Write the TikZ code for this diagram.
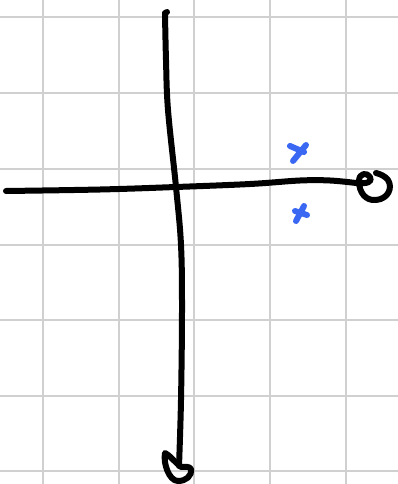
\documentclass[tikz,border=0pt]{standalone}
\definecolor{gridgray}{HTML}{D0D0D0}
\definecolor{markblue}{HTML}{3A68F2}

\begin{document}
\begin{tikzpicture}[x=1pt, y=-1pt, line cap=round, line join=round]
  \useasboundingbox[fill=white] (0,0) rectangle (398,484);

  % --- Grid ---
  \foreach \gx in {42.5, 118.5, 194, 270, 345.5}
    \draw[gridgray, line width=2] (\gx,0) -- (\gx,484);
  \foreach \gy in {17.5, 93, 169, 244.5, 320, 395.5, 471}
    \draw[gridgray, line width=2] (0,\gy) -- (398,\gy);

  % --- Horizontal axis with curled end ---
  \draw[line width=6] plot[smooth, tension=0.6] coordinates
    {(6,191) (100,189.5) (176,187) (250,184) (300,180.5) (330,180.5) (356,183)};
  \draw[line width=6] (356,183) .. controls (367,184) and (373,182) .. (370,177)
    .. controls (367,172) and (359,173) .. (359,181)
    .. controls (359,193) and (366,201) .. (376,200)
    .. controls (388,199) and (393,188) .. (388,180)
    .. controls (385,176) and (380,174) .. (376,173);

  % --- Vertical axis with hooked tip ---
  \draw[line width=6] (165,13) -- (167,12);
  \draw[line width=6] plot[smooth, tension=0.6] coordinates
    {(165,14) (166,60) (168,110) (176,187) (181,245) (182,310) (181,400) (179,466)};
  \draw[line width=6] (180,466) .. controls (174,461) and (168,454) .. (165,453)
    .. controls (163,463) and (169,481) .. (178,481)
    .. controls (186,481) and (192,476) .. (191,469)
    .. controls (189,466) and (185,467) .. (181,467);

  % --- Marks ---
  \draw[markblue, line width=6] (290,146) -- (304,152);
  \draw[markblue, line width=6] (306,145) -- (293,161);
  \draw[markblue, line width=6] (295,211) -- (307,215);
  \draw[markblue, line width=6] (304,206) -- (296,221);
\end{tikzpicture}
\end{document}
